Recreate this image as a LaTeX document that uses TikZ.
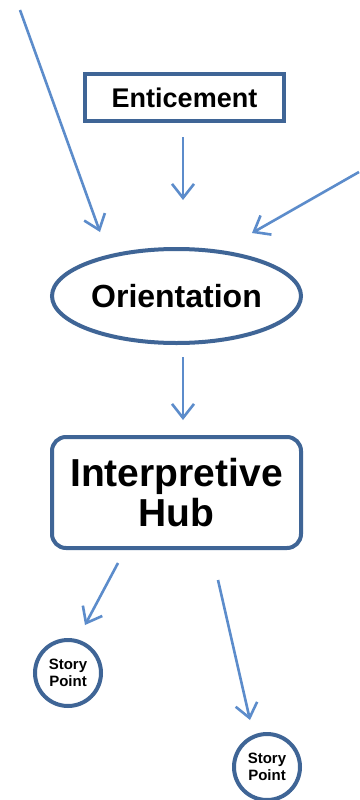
\documentclass[tikz,border=0pt]{standalone}
\usepackage{fontspec}
\setmainfont{Liberation Sans}
\usetikzlibrary{arrows.meta,shapes.geometric}
\definecolor{bord}{HTML}{3F6596}
\definecolor{arrc}{HTML}{5C8CCB}
\tikzset{
  arr/.style={draw=arrc, line width=2.6pt, -{Straight Barb[length=14pt,width=22pt,line width=2.6pt]}},
  boxy/.style={draw=bord, line width=4pt, fill=white, inner sep=0pt, font=\bfseries},
}
\begin{document}
\begin{tikzpicture}[x=1pt,y=-1pt]
\useasboundingbox[fill=white] (0,0) rectangle (359,800);
\node[boxy, rectangle, minimum width=199pt, minimum height=47pt, font=\fontsize{27}{30}\selectfont\bfseries] (ent) at (184.5,97.5) {Enticement};
\node[boxy, ellipse, minimum width=249pt, minimum height=94pt, font=\fontsize{32}{36}\selectfont\bfseries] (ori) at (176.5,296) {Orientation};
\node[boxy, rectangle, rounded corners=14pt, minimum width=249pt, minimum height=111pt, align=center, font=\fontsize{39}{40}\selectfont\bfseries] (hub) at (176.5,492.5) {Interpretive\\Hub};
\node[boxy, circle, minimum size=66pt, align=center, font=\fontsize{15}{17}\selectfont\bfseries] (sp1) at (68,673) {Story\\Point};
\node[boxy, circle, minimum size=66pt, align=center, font=\fontsize{15}{17}\selectfont\bfseries] (sp2) at (267,767) {Story\\Point};
\coordinate (lt) at (20,10);
\coordinate (rt) at (359,172);
\draw[arr] (lt) -- ([xshift=-76.5pt,yshift=15pt]ori.north);
\draw[arr] (rt) -- ([xshift=75.5pt,yshift=14pt]ori.north);
\draw[arr] ([xshift=-1.5pt,yshift=-14pt]ent.south) -- ([xshift=6.5pt,yshift=47pt]ori.north);
\draw[arr] ([xshift=6.5pt,yshift=-12pt]ori.south) -- ([xshift=6.5pt,yshift=15pt]hub.north);
\draw[arr] ([xshift=-58.5pt,yshift=-13pt]hub.south) -- ([xshift=17pt,yshift=13pt]sp1.north);
\draw[arr] ([xshift=41.5pt,yshift=-30pt]hub.south) -- ([xshift=-17pt,yshift=12pt]sp2.north);
\end{tikzpicture}
\end{document}
